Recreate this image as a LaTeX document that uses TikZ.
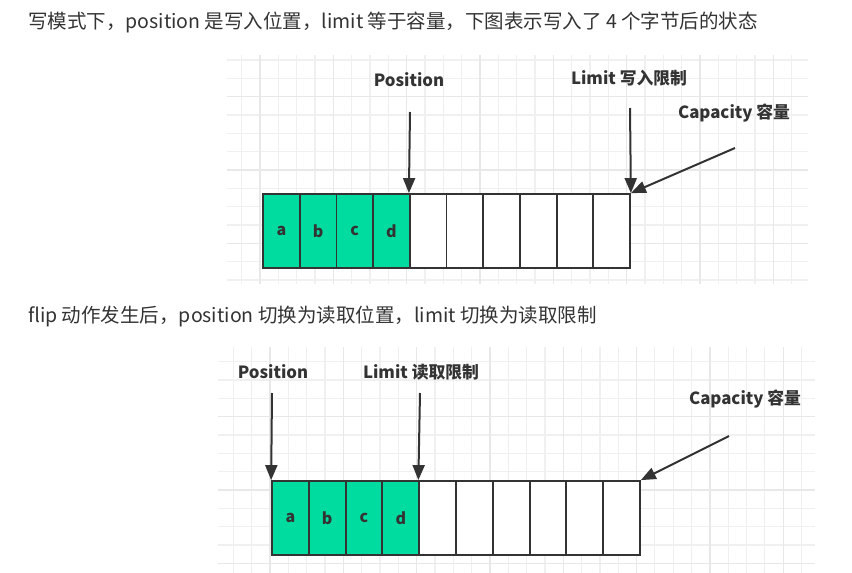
\documentclass[tikz,border=0pt]{standalone}
\usepackage{fontspec}
\setmainfont{Noto Sans CJK SC}
\usetikzlibrary{arrows.meta}
\definecolor{ink}{HTML}{333333}
\definecolor{usedgreen}{HTML}{00DCA0}
\definecolor{gridminor}{HTML}{F0F0F0}
\definecolor{gridmajor}{HTML}{E8E8E8}
\tikzset{
  cell/.style={draw=ink, line width=1.8pt, minimum width=36.7pt, minimum height=74pt,
    inner sep=0pt, font=\bfseries\fontsize{16}{16}\selectfont, text=ink},
  usedcell/.style={cell, fill=usedgreen},
  freecell/.style={cell, fill=white},
  pointer/.style={draw=ink, line width=2pt, -{Triangle[length=15pt,width=12pt]}},
  tag/.style={font=\bfseries\fontsize{16.8}{16.8}\selectfont, text=ink, inner sep=0pt},
  caption/.style={font=\fontsize{19.5}{19.5}\selectfont, text=ink, anchor=west, inner sep=0pt},
  minorline/.style={draw=gridminor, line width=1.2pt},
  majorline/.style={draw=gridmajor, line width=1.4pt}
}

\begin{document}
\begin{tikzpicture}[x=1pt, y=-1pt]
    \useasboundingbox (0,0) rectangle (852,573);

    % Captions
    \node[caption] (capwrite) at (28,22) {写模式下，position 是写入位置，limit 等于容量，下图表示写入了 4 个字节后的状态};
    \node[caption] (capflip) at (28,316) {flip 动作发生后，position 切换为读取位置，limit 切换为读取限制};

    % Grid behind the write-mode buffer
    \foreach \k in {0,...,30}
        \draw[minorline] ({241.7+18.33*\k},55) -- ({241.7+18.33*\k},284);
    \foreach \k in {0,...,12}
        \draw[minorline] (227,{60+18.33*\k}) -- (808,{60+18.33*\k});
    \foreach \k in {0,...,7}
        \draw[majorline] ({260+73.33*\k},55) -- ({260+73.33*\k},284);
    \foreach \k in {0,...,2}
        \draw[majorline] (227,{96.7+73.33*\k}) -- (808,{96.7+73.33*\k});

    % Grid behind the read-mode buffer
    \foreach \k in {0,...,31}
        \draw[minorline] ({233.3+18.33*\k},347) -- ({233.3+18.33*\k},573);
    \foreach \k in {0,...,11}
        \draw[minorline] (218,{361.7+18.33*\k}) -- (815,{361.7+18.33*\k});
    \foreach \k in {0,...,7}
        \draw[majorline] ({270+73.33*\k},347) -- ({270+73.33*\k},573);
    \foreach \k in {0,...,2}
        \draw[majorline] (218,{416.7+73.33*\k}) -- (815,{416.7+73.33*\k});

    % Write-mode buffer
    \foreach \i/\t in {1/a,2/b,3/c,4/d}
        \node[usedcell] (w\i) at ({263+36.7*(\i-0.5)},231) {\t};
    \foreach \i in {5,...,10}
        \node[freecell] (w\i) at ({263+36.7*(\i-0.5)},231) {};

    % Write-mode pointers
    \node[tag] (wpos) at (409,80) {Position};
    \node[tag] (wlim) at (629,78) {Limit 写入限制};
    \node[tag] (wcap) at (734,113) {Capacity 容量};
    \coordinate (wposTail) at (410,112);
    \coordinate (wlimTail) at (630,108);
    \coordinate (wcapTail) at (735,148);
    \draw[pointer] (wposTail) -- (w5.north west);
    \draw[pointer] (wlimTail) -- (w10.north east);
    \draw[pointer] (wcapTail) -- (w10.north east);

    % Read-mode buffer
    \foreach \i/\t in {1/a,2/b,3/c,4/d}
        \node[usedcell] (r\i) at ({272+36.8*(\i-0.5)},518) {\t};
    \foreach \i in {5,...,10}
        \node[freecell] (r\i) at ({272+36.8*(\i-0.5)},518) {};

    % Read-mode pointers
    \node[tag] (rpos) at (273,372) {Position};
    \node[tag] (rlim) at (421,372) {Limit 读取限制};
    \node[tag] (rcap) at (745,399) {Capacity 容量};
    \coordinate (rposTail) at (272,393);
    \coordinate (rlimTail) at (420,393);
    \coordinate (rcapTail) at (729,436);
    \draw[pointer] (rposTail) -- (r1.north west);
    \draw[pointer] (rlimTail) -- (r5.north west);
    \draw[pointer] (rcapTail) -- (r10.north east);
\end{tikzpicture}
\end{document}
